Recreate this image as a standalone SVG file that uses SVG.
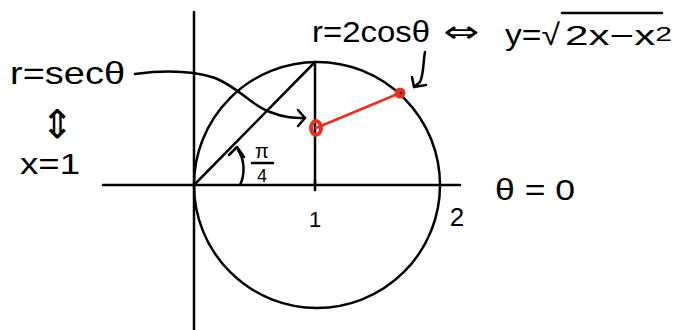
<svg xmlns="http://www.w3.org/2000/svg" width="690" height="330" viewBox="0 0 690 330">
<defs>
<style>
.ln{fill:none;stroke:#000;stroke-width:2.5;stroke-linecap:round;stroke-linejoin:round}
.rd{fill:none;stroke:#e8321e;stroke-width:2.5;stroke-linecap:round}
.t{font-family:"Liberation Sans",Arial,sans-serif;fill:#000}
.s{font-family:"DejaVu Sans",sans-serif;fill:#000}
</style>
</defs>
<rect width="690" height="330" fill="#fff"/>
<g id="axes">
<line class="ln" x1="194" y1="12" x2="194" y2="330"/>
<line class="ln" x1="103" y1="185" x2="460" y2="185"/>
<line class="ln" x1="315" y1="180" x2="315" y2="190"/>
</g>
<g id="circle">
<circle class="ln" cx="317" cy="185" r="123"/>
</g>
<g id="connectors">
<line class="ln" x1="194" y1="185" x2="315" y2="62"/>
<line class="ln" x1="315" y1="62" x2="315" y2="185"/>
<path class="ln" d="M135,74 C165,70 190,70 215,78 C240,88 250,105 270,112 C285,118 295,118 305,118"/>
<path class="ln" d="M298,110 L305,118 L298,126"/>
<path class="ln" d="M425,52 C423,62 424,74 420,82 L414,87"/>
<path class="ln" d="M412,77 L414,87 L426,85"/>
<path class="ln" d="M238,150 C245,160 245,175 240,185"/>
<path class="ln" d="M229,155 L237,147 L244,157"/>
<line class="rd" x1="316" y1="128" x2="400" y2="93"/>
</g>
<g id="points">
<ellipse cx="316" cy="128" rx="5" ry="7" fill="none" stroke="#e8321e" stroke-width="4"/>
<circle cx="400" cy="93" r="5.5" fill="#e8321e"/>
<circle cx="401" cy="93" r="1.3" fill="#000"/>
</g>
<g id="labels">
<text class="t" x="10" y="84" font-size="32" textLength="115" lengthAdjust="spacingAndGlyphs">r=secθ</text>
<text class="s" x="57" y="138" font-size="40" text-anchor="middle">⇕</text>
<text class="t" x="20" y="174" font-size="30" textLength="60" lengthAdjust="spacingAndGlyphs">x=1</text>
<text class="t" x="312" y="42" font-size="30" textLength="118" lengthAdjust="spacingAndGlyphs">r=2cosθ</text>
<text class="s" x="443" y="42" font-size="30" textLength="36" lengthAdjust="spacingAndGlyphs">⇔</text>
<text class="t" x="505" y="45" font-size="30" textLength="55" lengthAdjust="spacingAndGlyphs">y=√</text>
<line class="ln" x1="562" y1="13" x2="662" y2="13"/>
<text class="t" x="565" y="45" font-size="28" textLength="107" lengthAdjust="spacingAndGlyphs">2x−x<tspan font-size="20" dy="-4">2</tspan></text>
<text class="t" x="262" y="158" font-size="20" text-anchor="middle">π</text>
<line class="ln" x1="252" y1="163" x2="273" y2="163" stroke-width="2"/>
<text class="t" x="262" y="182" font-size="18" text-anchor="middle">4</text>
<text class="t" x="315" y="227" font-size="22" text-anchor="middle">1</text>
<text class="t" x="457" y="226" font-size="26" text-anchor="middle">2</text>
<text class="t" x="495" y="200" font-size="30" textLength="80" lengthAdjust="spacingAndGlyphs">θ = 0</text>
</g>
</svg>
